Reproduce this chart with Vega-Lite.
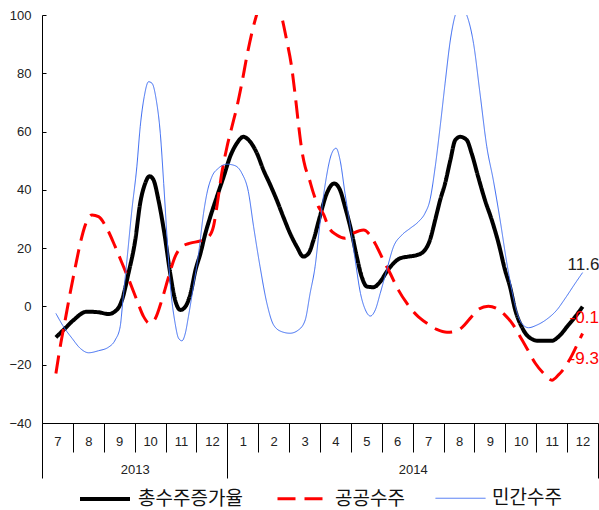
{
  "$schema": "https://vega.github.io/schema/vega-lite/v6.json",
  "width": 556,
  "height": 408,
  "autosize": {"type": "none"},
  "padding": {"left": 42, "top": 15, "right": 1, "bottom": 87},
  "background": "white",
  "datasets": {
    "lines": [
      {"series": "총수주증가율", "t": -0.05, "v": -10.6},
      {"series": "총수주증가율", "t": 0.25, "v": -7.5},
      {"series": "총수주증가율", "t": 0.52, "v": -4.7},
      {"series": "총수주증가율", "t": 0.95, "v": -1.8},
      {"series": "총수주증가율", "t": 1.33, "v": -2.0},
      {"series": "총수주증가율", "t": 1.65, "v": -2.6},
      {"series": "총수주증가율", "t": 1.92, "v": -1.2},
      {"series": "총수주증가율", "t": 2.09, "v": 2.2},
      {"series": "총수주증가율", "t": 2.3, "v": 11.4},
      {"series": "총수주증가율", "t": 2.52, "v": 22.8},
      {"series": "총수주증가율", "t": 2.68, "v": 35.5},
      {"series": "총수주증가율", "t": 2.84, "v": 42.2},
      {"series": "총수주증가율", "t": 2.98, "v": 44.7},
      {"series": "총수주증가율", "t": 3.11, "v": 43.4},
      {"series": "총수주증가율", "t": 3.27, "v": 36.5},
      {"series": "총수주증가율", "t": 3.46, "v": 25.2},
      {"series": "총수주증가율", "t": 3.65, "v": 11.4},
      {"series": "총수주증가율", "t": 3.81, "v": 2.2},
      {"series": "총수주증가율", "t": 3.98, "v": -1.2},
      {"series": "총수주증가율", "t": 4.14, "v": -0.1},
      {"series": "총수주증가율", "t": 4.31, "v": 4.5},
      {"series": "총수주증가율", "t": 4.47, "v": 12.5},
      {"series": "총수주증가율", "t": 4.63, "v": 18.2},
      {"series": "총수주증가율", "t": 4.79, "v": 25.1},
      {"series": "총수주증가율", "t": 4.95, "v": 30.8},
      {"series": "총수주증가율", "t": 5.16, "v": 37.6},
      {"series": "총수주증가율", "t": 5.38, "v": 44.5},
      {"series": "총수주증가율", "t": 5.59, "v": 51.4},
      {"series": "총수주증가율", "t": 5.81, "v": 56.0},
      {"series": "총수주증가율", "t": 6.02, "v": 58.2},
      {"series": "총수주증가율", "t": 6.24, "v": 56.5},
      {"series": "총수주증가율", "t": 6.46, "v": 52.5},
      {"series": "총수주증가율", "t": 6.67, "v": 46.8},
      {"series": "총수주증가율", "t": 6.89, "v": 41.7},
      {"series": "총수주증가율", "t": 7.1, "v": 36.5},
      {"series": "총수주증가율", "t": 7.31, "v": 30.8},
      {"series": "총수주증가율", "t": 7.53, "v": 25.1},
      {"series": "총수주증가율", "t": 7.75, "v": 20.5},
      {"series": "총수주증가율", "t": 7.96, "v": 17.1},
      {"series": "총수주증가율", "t": 8.13, "v": 18.2},
      {"series": "총수주증가율", "t": 8.29, "v": 22.8},
      {"series": "총수주증가율", "t": 8.5, "v": 31.0},
      {"series": "총수주증가율", "t": 8.72, "v": 38.8},
      {"series": "총수주증가율", "t": 8.96, "v": 42.2},
      {"series": "총수주증가율", "t": 9.15, "v": 39.9},
      {"series": "총수주증가율", "t": 9.31, "v": 34.2},
      {"series": "총수주증가율", "t": 9.53, "v": 25.1},
      {"series": "총수주증가율", "t": 9.69, "v": 17.1},
      {"series": "총수주증가율", "t": 9.85, "v": 10.2},
      {"series": "총수주증가율", "t": 10.02, "v": 6.8},
      {"series": "총수주증가율", "t": 10.23, "v": 6.6},
      {"series": "총수주증가율", "t": 10.45, "v": 8.5},
      {"series": "총수주증가율", "t": 10.66, "v": 11.9},
      {"series": "총수주증가율", "t": 10.88, "v": 14.8},
      {"series": "총수주증가율", "t": 11.09, "v": 16.5},
      {"series": "총수주증가율", "t": 11.36, "v": 17.1},
      {"series": "총수주증가율", "t": 11.63, "v": 17.6},
      {"series": "총수주증가율", "t": 11.85, "v": 18.8},
      {"series": "총수주증가율", "t": 12.06, "v": 22.8},
      {"series": "총수주증가율", "t": 12.23, "v": 29.7},
      {"series": "총수주증가율", "t": 12.39, "v": 36.5},
      {"series": "총수주증가율", "t": 12.55, "v": 42.2},
      {"series": "총수주증가율", "t": 12.72, "v": 50.2},
      {"series": "총수주증가율", "t": 12.88, "v": 57.1},
      {"series": "총수주증가율", "t": 13.04, "v": 58.2},
      {"series": "총수주증가율", "t": 13.25, "v": 57.1},
      {"series": "총수주증가율", "t": 13.41, "v": 52.5},
      {"series": "총수주증가율", "t": 13.62, "v": 44.5},
      {"series": "총수주증가율", "t": 13.84, "v": 36.5},
      {"series": "총수주증가율", "t": 14.06, "v": 29.7},
      {"series": "총수주증가율", "t": 14.28, "v": 21.7},
      {"series": "총수주증가율", "t": 14.49, "v": 12.5},
      {"series": "총수주증가율", "t": 14.65, "v": 6.8},
      {"series": "총수주증가율", "t": 14.82, "v": -1.2},
      {"series": "총수주증가율", "t": 15.03, "v": -7.0},
      {"series": "총수주증가율", "t": 15.25, "v": -10.4},
      {"series": "총수주증가율", "t": 15.57, "v": -11.8},
      {"series": "총수주증가율", "t": 16.0, "v": -11.8},
      {"series": "총수주증가율", "t": 16.22, "v": -10.4},
      {"series": "총수주증가율", "t": 16.54, "v": -6.4},
      {"series": "총수주증가율", "t": 16.81, "v": -2.9},
      {"series": "총수주증가율", "t": 17.0, "v": -0.1},

      {"series": "공공수주", "t": -0.05, "v": -23.0},
      {"series": "공공수주", "t": 0.09, "v": -13.8},
      {"series": "공공수주", "t": 0.25, "v": -4.7},
      {"series": "공공수주", "t": 0.41, "v": 4.5},
      {"series": "공공수주", "t": 0.58, "v": 13.6},
      {"series": "공공수주", "t": 0.74, "v": 21.7},
      {"series": "공공수주", "t": 0.9, "v": 27.9},
      {"series": "공공수주", "t": 1.12, "v": 31.4},
      {"series": "공공수주", "t": 1.33, "v": 30.8},
      {"series": "공공수주", "t": 1.6, "v": 26.8},
      {"series": "공공수주", "t": 1.87, "v": 20.5},
      {"series": "공공수주", "t": 2.14, "v": 13.6},
      {"series": "공공수주", "t": 2.36, "v": 7.9},
      {"series": "공공수주", "t": 2.57, "v": 2.2},
      {"series": "공공수주", "t": 2.79, "v": -3.5},
      {"series": "공공수주", "t": 2.98, "v": -5.8},
      {"series": "공공수주", "t": 3.17, "v": -4.1},
      {"series": "공공수주", "t": 3.38, "v": 2.2},
      {"series": "공공수주", "t": 3.6, "v": 10.2},
      {"series": "공공수주", "t": 3.81, "v": 17.1},
      {"series": "공공수주", "t": 4.03, "v": 20.5},
      {"series": "공공수주", "t": 4.3, "v": 21.7},
      {"series": "공공수주", "t": 4.63, "v": 22.5},
      {"series": "공공수주", "t": 4.89, "v": 23.9},
      {"series": "공공수주", "t": 5.05, "v": 27.4},
      {"series": "공공수주", "t": 5.16, "v": 34.2},
      {"series": "공공수주", "t": 5.32, "v": 45.7},
      {"series": "공공수주", "t": 5.49, "v": 54.8},
      {"series": "공공수주", "t": 5.65, "v": 61.7},
      {"series": "공공수주", "t": 5.81, "v": 68.5},
      {"series": "공공수주", "t": 5.97, "v": 76.6},
      {"series": "공공수주", "t": 6.13, "v": 85.7},
      {"series": "공공수주", "t": 6.29, "v": 93.7},
      {"series": "공공수주", "t": 6.46, "v": 100.5},
      {"series": "공공수주", "t": 6.7, "v": 108.0},
      {"series": "공공수주", "t": 6.9, "v": 110.0},
      {"series": "공공수주", "t": 7.1, "v": 106.0},
      {"series": "공공수주", "t": 7.31, "v": 97.1},
      {"series": "공공수주", "t": 7.42, "v": 91.4},
      {"series": "공공수주", "t": 7.58, "v": 82.3},
      {"series": "공공수주", "t": 7.69, "v": 73.1},
      {"series": "공공수주", "t": 7.8, "v": 62.8},
      {"series": "공공수주", "t": 7.91, "v": 53.7},
      {"series": "공공수주", "t": 8.02, "v": 47.9},
      {"series": "공공수주", "t": 8.13, "v": 44.5},
      {"series": "공공수주", "t": 8.29, "v": 38.8},
      {"series": "공공수주", "t": 8.45, "v": 34.2},
      {"series": "공공수주", "t": 8.62, "v": 31.5},
      {"series": "공공수주", "t": 8.77, "v": 27.4},
      {"series": "공공수주", "t": 9.04, "v": 24.5},
      {"series": "공공수주", "t": 9.31, "v": 23.4},
      {"series": "공공수주", "t": 9.58, "v": 25.1},
      {"series": "공공수주", "t": 9.91, "v": 26.2},
      {"series": "공공수주", "t": 10.12, "v": 24.5},
      {"series": "공공수주", "t": 10.34, "v": 20.5},
      {"series": "공공수주", "t": 10.55, "v": 15.9},
      {"series": "공공수주", "t": 10.77, "v": 11.4},
      {"series": "공공수주", "t": 11.04, "v": 5.6},
      {"series": "공공수주", "t": 11.31, "v": 1.1},
      {"series": "공공수주", "t": 11.63, "v": -3.0},
      {"series": "공공수주", "t": 11.96, "v": -5.8},
      {"series": "공공수주", "t": 12.28, "v": -7.9},
      {"series": "공공수주", "t": 12.61, "v": -8.9},
      {"series": "공공수주", "t": 12.9, "v": -8.5},
      {"series": "공공수주", "t": 13.1, "v": -7.2},
      {"series": "공공수주", "t": 13.36, "v": -4.1},
      {"series": "공공수주", "t": 13.63, "v": -1.0},
      {"series": "공공수주", "t": 13.95, "v": 0.1},
      {"series": "공공수주", "t": 14.22, "v": -0.7},
      {"series": "공공수주", "t": 14.49, "v": -3.0},
      {"series": "공공수주", "t": 14.76, "v": -6.4},
      {"series": "공공수주", "t": 14.98, "v": -10.4},
      {"series": "공공수주", "t": 15.2, "v": -14.4},
      {"series": "공공수주", "t": 15.47, "v": -19.5},
      {"series": "공공수주", "t": 15.74, "v": -23.0},
      {"series": "공공수주", "t": 16.01, "v": -25.3},
      {"series": "공공수주", "t": 16.22, "v": -23.5},
      {"series": "공공수주", "t": 16.44, "v": -20.7},
      {"series": "공공수주", "t": 16.66, "v": -16.7},
      {"series": "공공수주", "t": 16.82, "v": -13.2},
      {"series": "공공수주", "t": 17.0, "v": -9.3},

      {"series": "민간수주", "t": -0.05, "v": -2.4},
      {"series": "민간수주", "t": 0.2, "v": -7.0},
      {"series": "민간수주", "t": 0.47, "v": -10.9},
      {"series": "민간수주", "t": 0.74, "v": -14.4},
      {"series": "민간수주", "t": 1.01, "v": -15.9},
      {"series": "민간수주", "t": 1.33, "v": -15.2},
      {"series": "민간수주", "t": 1.65, "v": -14.0},
      {"series": "민간수주", "t": 1.87, "v": -11.5},
      {"series": "민간수주", "t": 2.03, "v": -7.0},
      {"series": "민간수주", "t": 2.12, "v": 2.2},
      {"series": "민간수주", "t": 2.25, "v": 15.9},
      {"series": "민간수주", "t": 2.41, "v": 33.1},
      {"series": "민간수주", "t": 2.57, "v": 47.9},
      {"series": "민간수주", "t": 2.68, "v": 61.7},
      {"series": "민간수주", "t": 2.81, "v": 72.0},
      {"series": "민간수주", "t": 2.95, "v": 77.1},
      {"series": "민간수주", "t": 3.06, "v": 76.6},
      {"series": "민간수주", "t": 3.2, "v": 70.8},
      {"series": "민간수주", "t": 3.33, "v": 59.4},
      {"series": "민간수주", "t": 3.44, "v": 42.2},
      {"series": "민간수주", "t": 3.54, "v": 25.1},
      {"series": "민간수주", "t": 3.65, "v": 7.9},
      {"series": "민간수주", "t": 3.81, "v": -5.8},
      {"series": "민간수주", "t": 3.92, "v": -10.9},
      {"series": "민간수주", "t": 4.03, "v": -11.8},
      {"series": "민간수주", "t": 4.14, "v": -9.2},
      {"series": "민간수주", "t": 4.24, "v": -3.5},
      {"series": "민간수주", "t": 4.4, "v": 6.8},
      {"series": "민간수주", "t": 4.57, "v": 18.2},
      {"series": "민간수주", "t": 4.73, "v": 32.0},
      {"series": "민간수주", "t": 4.84, "v": 38.8},
      {"series": "민간수주", "t": 5.0, "v": 44.5},
      {"series": "민간수주", "t": 5.21, "v": 47.4},
      {"series": "민간수주", "t": 5.49, "v": 48.8},
      {"series": "민간수주", "t": 5.75, "v": 48.3},
      {"series": "민간수주", "t": 5.97, "v": 45.7},
      {"series": "민간수주", "t": 6.18, "v": 39.4},
      {"series": "민간수주", "t": 6.35, "v": 27.4},
      {"series": "민간수주", "t": 6.56, "v": 13.6},
      {"series": "민간수주", "t": 6.78, "v": 1.1},
      {"series": "민간수주", "t": 7.0, "v": -6.4},
      {"series": "민간수주", "t": 7.27, "v": -8.7},
      {"series": "민간수주", "t": 7.53, "v": -9.2},
      {"series": "민간수주", "t": 7.8, "v": -8.1},
      {"series": "민간수주", "t": 8.02, "v": -4.7},
      {"series": "민간수주", "t": 8.18, "v": 4.5},
      {"series": "민간수주", "t": 8.34, "v": 13.6},
      {"series": "민간수주", "t": 8.5, "v": 28.5},
      {"series": "민간수주", "t": 8.67, "v": 42.0},
      {"series": "민간수주", "t": 8.88, "v": 52.5},
      {"series": "민간수주", "t": 9.02, "v": 54.3},
      {"series": "민간수주", "t": 9.15, "v": 50.2},
      {"series": "민간수주", "t": 9.31, "v": 38.8},
      {"series": "민간수주", "t": 9.48, "v": 27.4},
      {"series": "민간수주", "t": 9.64, "v": 15.9},
      {"series": "민간수주", "t": 9.81, "v": 4.5},
      {"series": "민간수주", "t": 9.97, "v": -1.2},
      {"series": "민간수주", "t": 10.13, "v": -3.3},
      {"series": "민간수주", "t": 10.29, "v": -1.2},
      {"series": "민간수주", "t": 10.45, "v": 4.5},
      {"series": "민간수주", "t": 10.66, "v": 12.5},
      {"series": "민간수주", "t": 10.88, "v": 20.5},
      {"series": "민간수주", "t": 11.15, "v": 24.5},
      {"series": "민간수주", "t": 11.42, "v": 26.8},
      {"series": "민간수주", "t": 11.69, "v": 29.1},
      {"series": "민간수주", "t": 11.9, "v": 32.0},
      {"series": "민간수주", "t": 12.06, "v": 36.5},
      {"series": "민간수주", "t": 12.23, "v": 47.9},
      {"series": "민간수주", "t": 12.39, "v": 61.7},
      {"series": "민간수주", "t": 12.55, "v": 76.6},
      {"series": "민간수주", "t": 12.72, "v": 91.4},
      {"series": "민간수주", "t": 12.88, "v": 100.0},
      {"series": "민간수주", "t": 13.05, "v": 103.0},
      {"series": "민간수주", "t": 13.25, "v": 100.0},
      {"series": "민간수주", "t": 13.47, "v": 90.3},
      {"series": "민간수주", "t": 13.68, "v": 73.1},
      {"series": "민간수주", "t": 13.9, "v": 54.8},
      {"series": "민간수주", "t": 14.11, "v": 43.4},
      {"series": "민간수주", "t": 14.33, "v": 29.7},
      {"series": "민간수주", "t": 14.55, "v": 14.8},
      {"series": "민간수주", "t": 14.71, "v": 5.6},
      {"series": "민간수주", "t": 14.87, "v": -1.8},
      {"series": "민간수주", "t": 15.03, "v": -5.8},
      {"series": "민간수주", "t": 15.25, "v": -7.3},
      {"series": "민간수주", "t": 15.52, "v": -6.4},
      {"series": "민간수주", "t": 15.84, "v": -4.4},
      {"series": "민간수주", "t": 16.17, "v": -1.2},
      {"series": "민간수주", "t": 16.44, "v": 2.8},
      {"series": "민간수주", "t": 16.76, "v": 7.9},
      {"series": "민간수주", "t": 17.0, "v": 11.6}
    ],
    "ends": [
      {"series": "민간수주", "t": 17, "v": 11.6, "label": "11.6"},
      {"series": "총수주증가율", "t": 17, "v": -0.1, "label": "-0.1"},
      {"series": "공공수주", "t": 17, "v": -9.3, "label": "-9.3"}
    ]
  },
  "data": {"name": "lines"},
  "encoding": {
    "y": {
      "field": "v",
      "type": "quantitative",
      "title": null,
      "scale": {"domain": [-40, 100], "nice": false, "zero": false},
      "axis": {
        "values": [-40, -20, 0, 20, 40, 60, 80, 100],
        "grid": false,
        "domainColor": "#000000",
        "tickColor": "#000000",
        "tickSize": -4,
        "labelPadding": 15,
        "labelFont": "Liberation Sans",
        "labelFontSize": 13,
        "labelColor": "#222222"
      }
    }
  },
  "layer": [
    {
      "mark": {"type": "line", "interpolate": "monotone", "clip": true, "strokeCap": "butt"},
      "encoding": {
        "x": {
          "field": "t",
          "type": "quantitative",
          "title": null,
          "scale": {"domain": [-0.5, 17.5], "nice": false, "zero": false},
          "axis": {
            "orient": "bottom",
            "values": [-0.5, 0.5, 1.5, 2.5, 3.5, 4.5, 5.5, 6.5, 7.5, 8.5, 9.5, 10.5, 11.5, 12.5, 13.5, 14.5, 15.5, 16.5, 17.5],
            "labels": false,
            "grid": false,
            "domainColor": "#000000",
            "tickColor": "#000000",
            "tickSize": {"condition": {"test": "datum.value == -0.5 || datum.value == 5.5 || datum.value == 17.5", "value": 55}, "value": 29}
          }
        },
        "color": {
          "field": "series",
          "type": "nominal",
          "title": null,
          "scale": {"domain": ["총수주증가율", "공공수주", "민간수주"], "range": ["#000000", "#ff0000", "#3d6cf2"]}
        },
        "strokeDash": {
          "field": "series",
          "type": "nominal",
          "title": null,
          "scale": {"domain": ["총수주증가율", "공공수주", "민간수주"], "range": [[1, 0], [18, 9], [1, 0]]}
        },
        "strokeWidth": {
          "field": "series",
          "type": "nominal",
          "title": null,
          "scale": {"type": "ordinal", "domain": ["총수주증가율", "공공수주", "민간수주"], "range": [4, 3, 1]}
        }
      }
    },
    {
      "mark": {"type": "point", "opacity": 0},
      "encoding": {
        "x": {
          "field": "t",
          "type": "quantitative",
          "title": null,
          "scale": {"domain": [-0.5, 17.5], "nice": false, "zero": false},
          "axis": {
            "orient": "bottom",
            "values": [0, 1, 2, 3, 4, 5, 6, 7, 8, 9, 10, 11, 12, 13, 14, 15, 16, 17],
            "labelExpr": "(datum.value + 6) % 12 + 1",
            "ticks": false,
            "domain": false,
            "grid": false,
            "labelPadding": 12,
            "labelFont": "Liberation Sans",
            "labelFontSize": 13,
            "labelColor": "#222222"
          }
        }
      }
    },
    {
      "mark": {"type": "point", "opacity": 0},
      "encoding": {
        "x": {
          "field": "t",
          "type": "quantitative",
          "title": null,
          "scale": {"domain": [-0.5, 17.5], "nice": false, "zero": false},
          "axis": {
            "orient": "bottom",
            "values": [2.5, 11.5],
            "labelExpr": "datum.value < 6 ? '2013' : '2014'",
            "ticks": false,
            "domain": false,
            "grid": false,
            "labelPadding": 40,
            "labelFont": "Liberation Sans",
            "labelFontSize": 13,
            "labelColor": "#222222"
          }
        }
      }
    },
    {
      "data": {"name": "ends"},
      "transform": [{"filter": "datum.label == '11.6'"}],
      "mark": {"type": "text", "align": "left", "baseline": "alphabetic", "dx": -15, "dy": -3, "font": "Liberation Sans", "fontSize": 17, "color": "#222222"},
      "encoding": {
        "x": {"field": "t", "type": "quantitative", "axis": null, "scale": {"domain": [-0.5, 17.5], "nice": false, "zero": false}},
        "text": {"field": "label"}
      }
    },
    {
      "data": {"name": "ends"},
      "transform": [{"filter": "datum.label == '-0.1'"}],
      "mark": {"type": "text", "align": "left", "baseline": "alphabetic", "dx": -13, "dy": 16, "font": "Liberation Sans", "fontSize": 17, "color": "#ff0000"},
      "encoding": {
        "x": {"field": "t", "type": "quantitative", "axis": null, "scale": {"domain": [-0.5, 17.5], "nice": false, "zero": false}},
        "text": {"field": "label"}
      }
    },
    {
      "data": {"name": "ends"},
      "transform": [{"filter": "datum.label == '-9.3'"}],
      "mark": {"type": "text", "align": "left", "baseline": "alphabetic", "dx": -13, "dy": 30, "font": "Liberation Sans", "fontSize": 17, "color": "#ff0000"},
      "encoding": {
        "x": {"field": "t", "type": "quantitative", "axis": null, "scale": {"domain": [-0.5, 17.5], "nice": false, "zero": false}},
        "text": {"field": "label"}
      }
    }
  ],
  "resolve": {"axis": {"x": "independent"}},
  "config": {
    "view": {"stroke": null},
    "legend": {
      "orient": "none",
      "legendX": 36,
      "legendY": 457,
      "direction": "horizontal",
      "symbolType": "stroke",
      "symbolSize": 2500,
      "labelFont": "Noto Sans CJK KR",
      "labelFontSize": 19,
      "labelColor": "#111111",
      "labelOffset": 6,
      "columnPadding": 28,
      "labelLimit": 0
    }
  }
}
